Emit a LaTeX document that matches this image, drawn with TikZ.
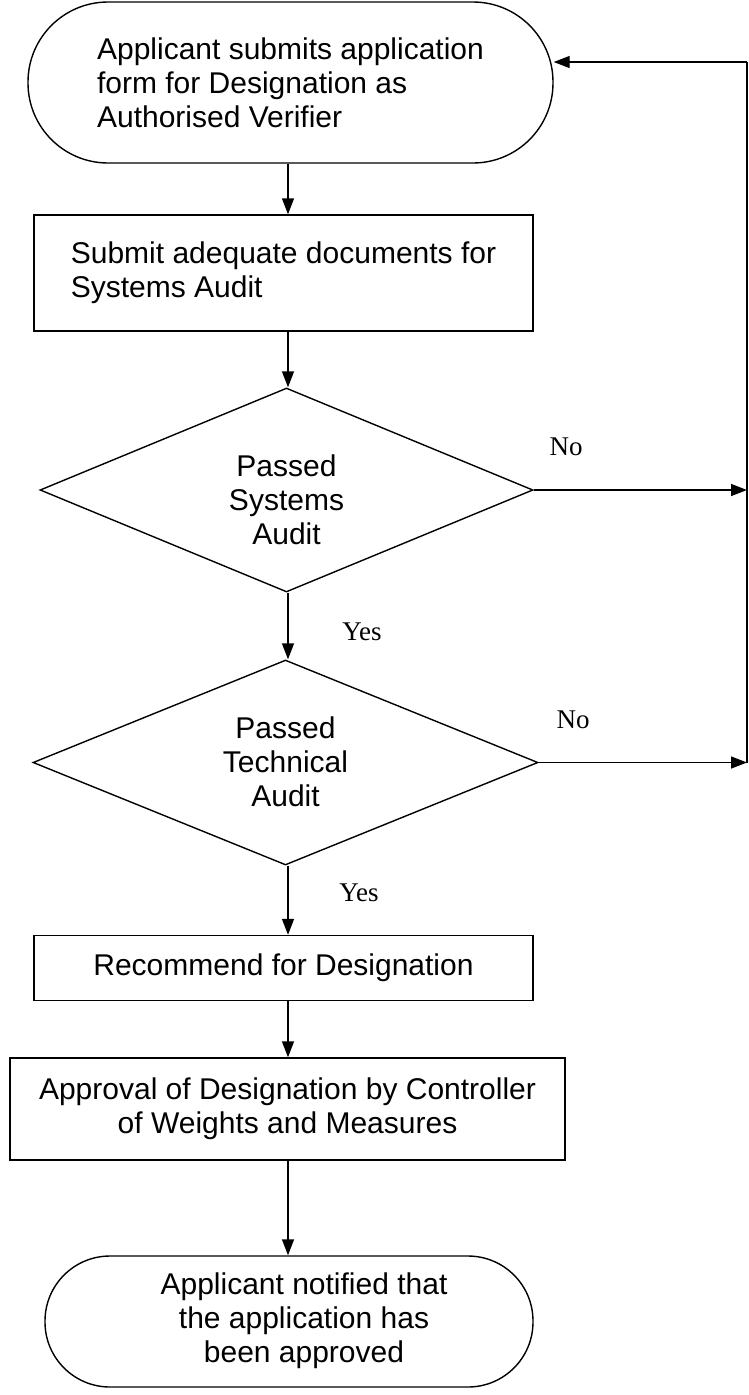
\documentclass[tikz,border=0pt]{standalone}
\usepackage{fontspec}
\setmainfont{Liberation Sans}
\newfontfamily\lblfont{Liberation Serif}
\usetikzlibrary{shapes.geometric,arrows.meta,calc}
\begin{document}
\begin{tikzpicture}[x=1pt,y=-1pt,
  every node/.style={font=\fontsize{30}{34}\selectfont, inner sep=0pt},
  term/.style={draw, rectangle, rounded corners=#1},
  box/.style={draw, rectangle},
  dec/.style={draw, diamond},
  lbl/.style={font=\lblfont\fontsize{27}{30}\selectfont},
  arr/.style={-{Triangle[length=16pt,width=12pt]}},
  line width=1.4pt]
\useasboundingbox[fill=white] (0,0) rectangle (749,1395);

\coordinate (col) at (288,0);
\coordinate (rtop) at (747,62);

\node[term=80pt, minimum width=525, minimum height=161, align=left] (t1) at (290.5,82.5)
  {Applicant submits application\\form for Designation as\\Authorised Verifier};
\node[box, minimum width=499, minimum height=116, align=left] (b1) at (283.5,273)
  {Submit adequate documents for\\Systems Audit};
\node[dec, minimum width=493, minimum height=204] (d1) at (286.5,490) {};
\node[align=center] (d1t) at (286.5,500) {Passed\\Systems\\Audit};
\node[dec, minimum width=505, minimum height=205] (d2) at (285.5,762.5) {};
\node[align=center] (d2t) at (285.5,762) {Passed\\Technical\\Audit};
\node[box, minimum width=499, minimum height=65] (b2) at (283.5,968) {Recommend for Designation};
\node[box, minimum width=555, minimum height=102, align=center] (b3) at (287.5,1109)
  {Approval of Designation by Controller\\of Weights and Measures};
\node[term=65pt, minimum width=488, minimum height=131] (t2) at (289,1321.5) {};
\node[align=center] (t2t) at (304,1321) {Applicant notified that\\the application has\\been approved};

\draw[arr] (t1.south -| col) -- (b1.north -| col);
\draw[arr] (b1.south -| col) -- (d1.north -| col);
\draw[arr] (d1.south -| col) -- (d2.north -| col);
\draw[arr] (d2.south -| col) -- (b2.north -| col);
\draw[arr] (b2.south -| col) -- (b3.north -| col);
\draw[arr] (b3.south -| col) -- (t2.north -| col);

\draw (rtop) -- (rtop |- d2.east);
\draw[arr] (rtop) -- (t1.east |- rtop);
\draw[arr] (d1.east) -- (d1.east -| rtop);
\draw[arr] (d2.east) -- (d2.east -| rtop);

\node[lbl] (no1) at (566,447) {No};
\node[lbl] (no2) at (573,720) {No};
\node[lbl] (yes1) at (362,632) {Yes};
\node[lbl] (yes2) at (359,893) {Yes};
\end{tikzpicture}
\end{document}
